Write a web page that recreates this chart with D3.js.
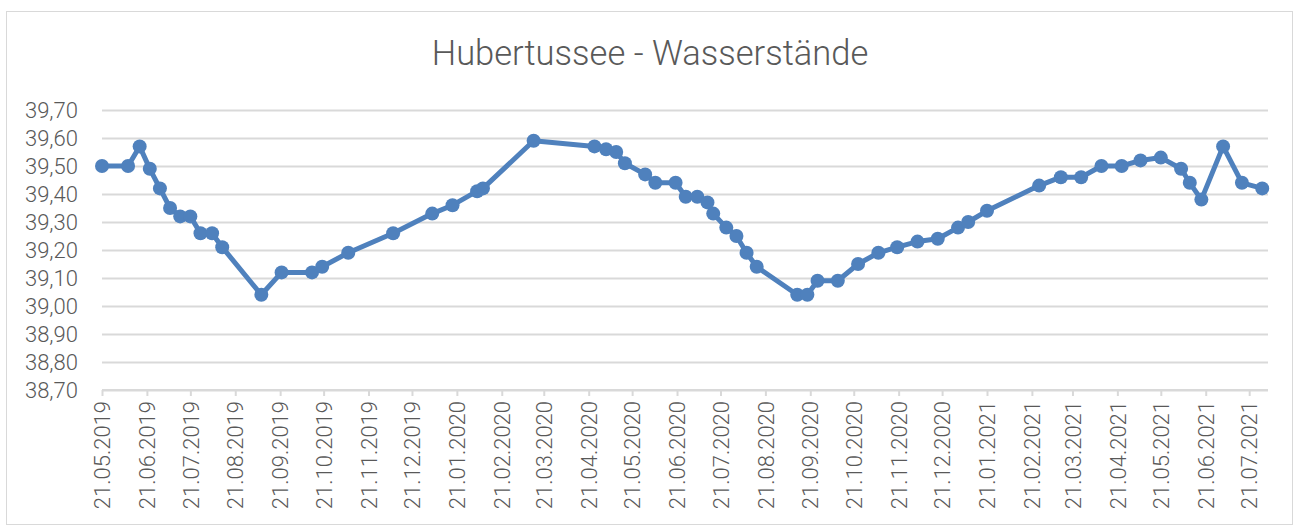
<!DOCTYPE html>
<html>
<head>
<meta charset="utf-8">
<script src="https://cdn.jsdelivr.net/npm/d3@7"></script>
<style>
  body { margin: 0; background: #fff; }
  svg { display: block; }
</style>
</head>
<body>
<div id="chart-area"></div>
<script>
// Hubertussee - water levels
const dates = [
    "21.05.2019", "08.06.2019", "16.06.2019", "23.06.2019", "30.06.2019", "07.07.2019",
    "14.07.2019", "21.07.2019", "28.07.2019", "05.08.2019", "12.08.2019", "08.09.2019",
    "22.09.2019", "13.10.2019", "20.10.2019", "07.11.2019", "08.12.2019", "04.01.2020",
    "18.01.2020", "04.02.2020", "08.02.2020", "14.03.2020", "25.04.2020", "03.05.2020",
    "10.05.2020", "16.05.2020", "30.05.2020", "06.06.2020", "20.06.2020", "27.06.2020",
    "05.07.2020", "12.07.2020", "16.07.2020", "25.07.2020", "01.08.2020", "08.08.2020",
    "15.08.2020", "12.09.2020", "19.09.2020", "26.09.2020", "10.10.2020", "24.10.2020",
    "07.11.2020", "20.11.2020", "04.12.2020", "18.12.2020", "01.01.2021", "08.01.2021",
    "21.01.2021", "26.02.2021", "13.03.2021", "27.03.2021", "10.04.2021", "24.04.2021",
    "07.05.2021", "21.05.2021", "04.06.2021", "10.06.2021", "18.06.2021", "03.07.2021",
    "16.07.2021", "30.07.2021"
]
const levels = [
    39.50, 39.50, 39.57, 39.49, 39.42, 39.35,
    39.32, 39.32, 39.26, 39.26, 39.21, 39.04,
    39.12, 39.12, 39.14, 39.19, 39.26, 39.33,
    39.36, 39.41, 39.42, 39.59, 39.57, 39.56,
    39.55, 39.51, 39.47, 39.44, 39.44, 39.39,
    39.39, 39.37, 39.33, 39.28, 39.25, 39.19,
    39.14, 39.04, 39.04, 39.09, 39.09, 39.15,
    39.19, 39.21, 39.23, 39.24, 39.28, 39.30,
    39.34, 39.43, 39.46, 39.46, 39.50, 39.50,
    39.52, 39.53, 39.49, 39.44, 39.38, 39.57,
    39.44, 39.42
]
const xTickLabels = [
    "21.05.2019", "21.06.2019", "21.07.2019", "21.08.2019", "21.09.2019", "21.10.2019",
    "21.11.2019", "21.12.2019", "21.01.2020", "21.02.2020", "21.03.2020", "21.04.2020",
    "21.05.2020", "21.06.2020", "21.07.2020", "21.08.2020", "21.09.2020", "21.10.2020",
    "21.11.2020", "21.12.2020", "21.01.2021", "21.02.2021", "21.03.2021", "21.04.2021",
    "21.05.2021", "21.06.2021", "21.07.2021"
]
const yTicks = [38.7, 38.8, 38.9, 39.0, 39.1, 39.2, 39.3, 39.4, 39.5, 39.6, 39.7]
const axisEnd = "03.08.2021"

const W = 1298
const H = 526
const margin = {left: 102, right: 30, top: 110, bottom: 136}
const width = W - margin.left - margin.right
const height = H - margin.top - margin.bottom

const parse = d3.timeParse("%d.%m.%Y")
const fmtY = d => d.toFixed(2).replace(".", ",")
const textColor = "#595959"
const lineColor = "#4f81bd"
const font = "Roboto, 'Liberation Sans', sans-serif"

const data = dates.map((d, i) => ({date: parse(d), level: levels[i]}))

const svg = d3.select("#chart-area").append("svg")
    .attr("width", W)
    .attr("height", H)

// chart border
svg.append("rect")
    .attr("x", 6.5)
    .attr("y", 11.5)
    .attr("width", 1286)
    .attr("height", 513)
    .attr("fill", "#fff")
    .attr("stroke", "#d9d9d9")
    .attr("stroke-width", 1)

// title
svg.append("text")
    .attr("x", 650)
    .attr("y", 65)
    .attr("text-anchor", "middle")
    .attr("font-family", font)
    .attr("font-weight", 300)
    .attr("font-size", "34.5px")
    .attr("fill", textColor)
    .text("Hubertussee - Wasserstände")

const g = svg.append("g")
    .attr("transform", `translate(${margin.left}, ${margin.top})`)

const x = d3.scaleTime()
    .domain([data[0].date, parse(axisEnd)])
    .range([0, width])

const y = d3.scaleLinear()
    .domain([yTicks[0], yTicks[yTicks.length - 1]])
    .range([height, 0])

// Y axis + gridlines
const yAxisCall = d3.axisLeft(y)
    .tickValues(yTicks)
    .tickSize(-width)
    .tickPadding(24)
    .tickFormat(fmtY)

const yAxis = g.append("g")
    .attr("class", "y axis")
    .call(yAxisCall)
yAxis.select(".domain").remove()
yAxis.selectAll("line")
    .attr("stroke", "#d9d9d9")
    .attr("stroke-width", 2)
yAxis.selectAll("text")
    .attr("font-family", font)
    .attr("font-weight", 300)
    .attr("font-size", "22px")
    .attr("fill", textColor)

// X axis
const xAxisCall = d3.axisBottom(x)
    .tickValues(xTickLabels.map(parse))
    .tickSize(6)
    .tickFormat(d3.timeFormat("%d.%m.%Y"))

const xAxis = g.append("g")
    .attr("class", "x axis")
    .attr("transform", `translate(0, ${height})`)
    .call(xAxisCall)
xAxis.select(".domain")
    .attr("stroke", "#d9d9d9")
    .attr("stroke-width", 2)
    .attr("d", `M0,0H${width}`)
xAxis.selectAll("line")
    .attr("stroke", "#d9d9d9")
    .attr("stroke-width", 2)
xAxis.selectAll("text")
    .attr("font-family", font)
    .attr("font-weight", 300)
    .attr("font-size", "22px")
    .attr("fill", textColor)
    .attr("text-anchor", "end")
    .attr("dy", "0.35em")
    .attr("x", -11)
    .attr("y", 0)
    .attr("transform", "rotate(-90)")

// line
const line = d3.line()
    .x(d => x(d.date))
    .y(d => y(d.level))

g.append("path")
    .datum(data)
    .attr("fill", "none")
    .attr("stroke", lineColor)
    .attr("stroke-width", 5)
    .attr("stroke-linejoin", "round")
    .attr("d", line)

g.selectAll("circle").data(data)
    .enter()
    .append("circle")
    .attr("cx", d => x(d.date))
    .attr("cy", d => y(d.level))
    .attr("r", 7)
    .attr("fill", lineColor)
</script>
</body>
</html>
